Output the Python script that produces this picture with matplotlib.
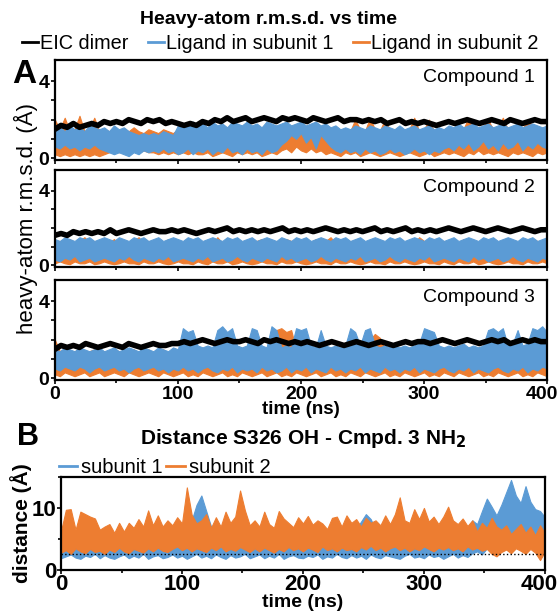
import numpy as np
import matplotlib
matplotlib.use('Agg')
import matplotlib.pyplot as plt
from matplotlib.ticker import MultipleLocator
from matplotlib.lines import Line2D
from matplotlib.transforms import ScaledTranslation

plt.rcParams['font.family'] = ['Liberation Sans', 'DejaVu Sans']

azul = '#5b9bd5'
naranja = '#ed7d31'

# --- Datos ---
# EIC dimer: r.m.s.d. (A) cada 5 ns
eic_c1 = [1.5, 1.7, 1.6, 1.8, 1.6, 1.7, 1.8, 1.7, 1.9, 1.8,
          1.9, 1.8, 2.0, 1.9, 1.8, 2.0, 1.9, 2.0, 1.8, 1.9,
          1.8, 1.7, 1.8, 1.7, 1.9, 1.8, 2.0, 1.9, 2.1, 1.9,
          2.0, 2.1, 1.9, 2.0, 2.1, 2.0, 1.9, 2.1, 2.0, 2.1,
          2.0, 1.9, 2.1, 2.0, 1.9, 2.0, 2.1, 1.9, 2.0, 2.0,
          1.9, 2.0, 1.9, 2.0, 1.8, 1.9, 2.0, 1.8, 1.9, 1.8,
          1.9, 1.8, 1.7, 1.8, 1.9, 1.8, 1.9, 2.0, 1.9, 1.8,
          1.9, 2.0, 1.9, 1.8, 2.0, 1.9, 1.8, 1.9, 2.0, 1.9,
          1.9]
eic_c2 = [1.6, 1.7, 1.6, 1.8, 1.7, 1.8, 1.7, 1.8, 1.7, 1.9,
          1.7, 1.8, 1.9, 1.8, 1.7, 1.8, 1.9, 1.8, 1.8, 1.9,
          1.8, 1.9, 1.8, 1.7, 1.8, 1.9, 1.8, 1.9, 2.0, 1.8,
          1.9, 1.8, 1.9, 1.8, 1.9, 1.8, 1.9, 2.0, 1.8, 1.9,
          1.8, 1.9, 1.8, 1.9, 2.0, 1.9, 1.8, 1.9, 1.8, 1.9,
          1.8, 1.9, 2.0, 1.8, 1.9, 1.8, 1.9, 2.0, 1.8, 1.9,
          1.8, 1.9, 1.8, 1.9, 2.0, 1.9, 1.8, 1.9, 2.0, 1.9,
          1.8, 1.9, 2.0, 1.9, 1.8, 1.9, 2.0, 1.9, 1.8, 1.9,
          1.9]
eic_c3 = [1.5, 1.7, 1.6, 1.7, 1.6, 1.8, 1.7, 1.6, 1.7, 1.8,
          1.7, 1.6, 1.8, 1.7, 1.6, 1.7, 1.8, 1.7, 1.7, 1.8,
          1.8, 1.9, 1.8, 1.9, 2.0, 1.9, 1.8, 1.9, 2.0, 1.9,
          1.9, 2.0, 1.9, 1.8, 2.0, 1.9, 2.0, 1.9, 1.8, 1.9,
          1.8, 1.9, 1.8, 1.7, 1.8, 1.9, 1.8, 1.7, 1.8, 1.9,
          1.8, 1.7, 1.8, 1.9, 1.8, 1.7, 1.8, 1.9, 1.8, 1.9,
          1.9, 1.8, 1.9, 2.0, 1.9, 1.8, 1.9, 2.0, 1.9, 1.8,
          1.9, 2.0, 1.9, 2.0, 1.8, 1.9, 2.0, 1.9, 2.0, 1.9,
          1.9]

# Ligandos: envolvente superior / inferior cada 4 ns
lig1_c1_hi = [1.5, 1.6, 1.4, 1.7, 1.5, 1.6, 1.4, 1.7, 1.6, 1.5,
              1.6, 1.4, 1.7, 1.5, 1.6, 1.4, 1.3, 1.2, 1.3, 1.2,
              1.3, 1.2, 1.4, 1.3, 1.2, 1.7, 1.8, 1.6, 1.9, 1.7,
              1.8, 1.6, 1.9, 1.7, 1.8, 1.6, 1.9, 1.8, 1.7, 1.9,
              1.7, 1.8, 1.6, 1.9, 1.8, 1.7, 1.8, 1.9, 1.7, 1.8,
              1.9, 1.7, 1.8, 1.9, 1.7, 1.8, 1.6, 1.7, 1.5, 1.6,
              1.5, 1.7, 1.6, 1.5, 1.7, 1.6, 1.5, 1.7, 1.6, 1.5,
              1.7, 1.5, 1.6, 1.7, 1.5, 1.6, 1.7, 1.5, 1.6, 1.5,
              1.7, 1.6, 1.8, 1.6, 1.7, 1.8, 1.6, 1.7, 1.8, 1.6,
              1.7, 1.8, 1.6, 1.7, 1.8, 1.6, 1.7, 1.8, 1.7, 1.6,
              1.7]
lig1_c1_lo = [0.6, 0.5, 0.7, 0.5, 0.6, 0.4, 0.6, 0.5, 0.7, 0.5,
              0.4, 0.3, 0.2, 0.3, 0.2, 0.1, 0.3, 0.2, 0.4, 0.3,
              0.4, 0.3, 0.5, 0.3, 0.4, 0.2, 0.3, 0.5, 0.2, 0.4,
              0.3, 0.5, 0.2, 0.4, 0.3, 0.6, 0.3, 0.4, 0.2, 0.5,
              0.3, 0.4, 0.2, 0.5, 0.3, 0.4, 0.7, 0.9, 1.2, 1.0,
              1.3, 0.8, 1.1, 0.5, 1.2, 0.9, 0.6, 0.4, 0.3, 0.5,
              0.3, 0.4, 0.2, 0.5, 0.3, 0.4, 0.2, 0.3, 0.5, 0.3,
              0.4, 0.2, 0.3, 0.5, 0.3, 0.4, 0.2, 0.4, 0.3, 0.5,
              0.6, 0.4, 0.7, 0.5, 0.8, 0.4, 0.6, 0.9, 0.5, 0.7,
              0.4, 0.8, 0.5, 0.6, 0.9, 0.4, 0.7, 0.5, 0.8, 0.6,
              0.5]
lig2_c1_hi = [2.0, 1.5, 2.1, 1.4, 1.5, 2.2, 1.4, 1.5, 2.1, 1.4,
              1.5, 1.4, 1.5, 1.3, 1.5, 1.4, 1.6, 1.4, 1.3, 1.5,
              1.4, 1.3, 1.5, 1.4, 1.3, 1.5, 1.6, 1.5, 1.6, 1.5,
              1.6, 1.5, 1.7, 1.5, 1.6, 1.5, 1.7, 1.6, 1.5, 1.6,
              1.5, 1.6, 1.5, 1.7, 1.6, 1.5, 1.6, 1.7, 1.5, 1.6,
              1.7, 1.5, 1.6, 1.7, 1.5, 1.6, 1.5, 1.6, 1.4, 1.5,
              1.4, 2.0, 1.5, 1.4, 2.1, 1.5, 1.4, 2.0, 1.5, 1.4,
              1.5, 1.4, 1.5, 2.1, 1.4, 1.5, 2.0, 1.4, 1.5, 1.4,
              1.6, 1.5, 1.7, 1.5, 2.1, 1.7, 1.5, 1.6, 2.0, 1.5,
              1.6, 2.1, 1.5, 1.6, 1.7, 1.5, 2.0, 1.7, 1.6, 1.5,
              1.6]
lig2_c1_lo = [0.2, 0.1, 0.2, 0.1, 0.2, 0.1, 0.2, 0.1, 0.2, 0.1,
              0.2, 0.3, 0.4, 0.3, 0.5, 0.3, 0.4, 0.3, 0.4, 0.3,
              0.3, 0.2, 0.3, 0.2, 0.3, 0.2, 0.3, 0.2, 0.3, 0.2,
              0.2, 0.3, 0.1, 0.2, 0.3, 0.2, 0.1, 0.3, 0.2, 0.3,
              0.2, 0.3, 0.1, 0.2, 0.3, 0.2, 0.4, 0.5, 0.3, 0.6,
              0.4, 0.3, 0.5, 0.3, 0.4, 0.2, 0.3, 0.2, 0.1, 0.3,
              0.2, 0.3, 0.1, 0.2, 0.3, 0.2, 0.1, 0.2, 0.3, 0.2,
              0.1, 0.2, 0.3, 0.2, 0.1, 0.2, 0.3, 0.1, 0.2, 0.3,
              0.2, 0.3, 0.2, 0.1, 0.3, 0.2, 0.4, 0.2, 0.3, 0.2,
              0.3, 0.2, 0.1, 0.3, 0.2, 0.3, 0.2, 0.1, 0.3, 0.2,
              0.3]

lig1_c2_hi = [1.4, 1.3, 1.5, 1.4, 1.3, 1.5, 1.4, 1.5, 1.3, 1.4,
              1.5, 1.4, 1.3, 1.5, 1.4, 1.3, 1.5, 1.4, 1.5, 1.3,
              1.4, 1.5, 1.3, 1.4, 1.5, 1.4, 1.3, 1.5, 1.4, 1.5,
              1.3, 1.4, 1.5, 1.4, 1.3, 1.5, 1.4, 1.5, 1.3, 1.4,
              1.5, 1.3, 1.4, 1.5, 1.4, 1.3, 1.5, 1.4, 1.3, 1.5,
              1.4, 1.5, 1.3, 1.4, 1.5, 1.4, 1.3, 1.5, 1.4, 1.5,
              1.3, 1.4, 1.5, 1.3, 1.4, 1.5, 1.4, 1.3, 1.5, 1.4,
              1.5, 1.3, 1.4, 1.5, 1.4, 1.3, 1.5, 1.4, 1.5, 1.3,
              1.4, 1.5, 1.3, 1.4, 1.5, 1.4, 1.3, 1.5, 1.4, 1.5,
              1.3, 1.4, 1.5, 1.4, 1.3, 1.5, 1.4, 1.5, 1.3, 1.4,
              1.5]
lig1_c2_lo = [0.3, 0.2, 0.4, 0.3, 0.5, 0.2, 0.3, 0.4, 0.2, 0.3,
              0.4, 0.3, 0.2, 0.4, 0.3, 0.5, 0.3, 0.2, 0.4, 0.3,
              0.2, 0.4, 0.3, 0.5, 0.2, 0.3, 0.4, 0.3, 0.2, 0.4,
              0.3, 0.5, 0.2, 0.3, 0.4, 0.2, 0.3, 0.5, 0.3, 0.2,
              0.4, 0.3, 0.2, 0.4, 0.3, 0.2, 0.5, 0.3, 0.4, 0.2,
              0.3, 0.4, 0.2, 0.3, 0.5, 0.3, 0.2, 0.4, 0.3, 0.2,
              0.4, 0.3, 0.5, 0.2, 0.3, 0.4, 0.2, 0.3, 0.5, 0.3,
              0.2, 0.4, 0.3, 0.2, 0.4, 0.3, 0.5, 0.2, 0.3, 0.4,
              0.3, 0.2, 0.4, 0.3, 0.2, 0.5, 0.3, 0.4, 0.2, 0.3,
              0.4, 0.2, 0.3, 0.5, 0.3, 0.2, 0.4, 0.3, 0.2, 0.4,
              0.3]
lig2_c2_hi = [1.2, 1.3, 1.1, 1.4, 1.2, 1.3, 1.5, 1.2, 1.3, 1.1,
              1.3, 1.2, 1.4, 1.1, 1.3, 1.2, 1.3, 1.5, 1.2, 1.3,
              1.1, 1.3, 1.2, 1.4, 1.2, 1.3, 1.1, 1.3, 1.2, 1.4,
              1.2, 1.3, 1.1, 1.5, 1.2, 1.3, 1.2, 1.4, 1.1, 1.3,
              1.2, 1.3, 1.4, 1.2, 1.1, 1.3, 1.2, 1.4, 1.3, 1.2,
              1.1, 1.3, 1.2, 1.4, 1.2, 1.3, 1.5, 1.2, 1.3, 1.1,
              1.3, 1.2, 1.4, 1.2, 1.3, 1.1, 1.3, 1.2, 1.4, 1.3,
              1.2, 1.1, 1.3, 1.2, 1.5, 1.3, 1.2, 1.4, 1.1, 1.3,
              1.2, 1.3, 1.1, 1.4, 1.2, 1.3, 1.2, 1.4, 1.1, 1.3,
              1.2, 1.3, 1.4, 1.2, 1.1, 1.3, 1.2, 1.4, 1.3, 1.2,
              1.3]
lig2_c2_lo = [0.1, 0.2, 0.1, 0.05, 0.2, 0.1, 0.1, 0.2, 0.05, 0.1,
              0.2, 0.1, 0.05, 0.1, 0.2, 0.1, 0.1, 0.05, 0.2, 0.1,
              0.1, 0.2, 0.1, 0.05, 0.1, 0.2, 0.1, 0.1, 0.05, 0.2,
              0.1, 0.05, 0.2, 0.1, 0.1, 0.2, 0.05, 0.1, 0.2, 0.1,
              0.05, 0.1, 0.2, 0.1, 0.1, 0.05, 0.2, 0.1, 0.1, 0.2,
              0.1, 0.05, 0.1, 0.2, 0.1, 0.1, 0.05, 0.2, 0.1, 0.1,
              0.2, 0.1, 0.05, 0.1, 0.2, 0.1, 0.1, 0.05, 0.2, 0.1,
              0.1, 0.2, 0.1, 0.05, 0.1, 0.2, 0.1, 0.1, 0.05, 0.2,
              0.1, 0.05, 0.2, 0.1, 0.1, 0.2, 0.05, 0.1, 0.2, 0.1,
              0.05, 0.1, 0.2, 0.1, 0.1, 0.05, 0.2, 0.1, 0.1, 0.2,
              0.1]

lig1_c3_hi = [1.5, 1.4, 1.6, 1.5, 1.4, 1.6, 1.5, 1.4, 1.5, 1.6,
              1.4, 1.5, 1.6, 1.4, 1.5, 1.6, 1.5, 1.4, 1.6, 1.5,
              1.4, 1.6, 1.5, 1.4, 1.6, 1.5, 2.6, 2.4, 2.5, 1.7,
              1.6, 1.7, 1.6, 2.5, 2.7, 2.4, 2.6, 1.7, 1.6, 1.7,
              2.6, 2.5, 1.7, 1.6, 2.7, 2.5, 1.6, 1.7, 1.6, 2.6,
              2.5, 2.6, 1.7, 1.6, 2.5, 1.7, 1.6, 1.7, 1.6, 1.7,
              2.6, 2.4, 1.7, 2.5, 2.6, 1.7, 1.6, 1.7, 1.6, 1.7,
              1.6, 1.7, 1.6, 1.7, 1.8, 2.6, 2.5, 2.4, 1.7, 1.6,
              1.7, 1.6, 1.7, 1.8, 1.6, 1.7, 1.6, 1.7, 2.5, 2.6,
              2.4, 2.6, 1.7, 1.8, 2.5, 1.7, 1.8, 2.6, 2.5, 2.7,
              2.4]
lig1_c3_lo = [0.5, 0.4, 0.6, 0.5, 0.4, 0.6, 0.5, 0.3, 0.5, 0.6,
              0.4, 0.5, 0.6, 0.4, 0.5, 0.3, 0.5, 0.6, 0.4, 0.5,
              0.6, 0.4, 0.5, 0.3, 0.5, 0.4, 0.6, 0.4, 0.5, 0.3,
              0.5, 0.6, 0.4, 0.3, 0.5, 0.4, 0.6, 0.3, 0.5, 0.4,
              0.5, 0.3, 0.6, 0.4, 0.5, 0.3, 0.4, 0.6, 0.3, 0.5,
              0.4, 0.6, 0.3, 0.5, 0.4, 0.3, 0.6, 0.4, 0.5, 0.3,
              0.5, 0.4, 0.6, 0.3, 0.5, 0.4, 0.3, 0.6, 0.4, 0.5,
              0.3, 0.5, 0.4, 0.6, 0.3, 0.5, 0.4, 0.3, 0.5, 0.6,
              0.4, 0.3, 0.5, 0.4, 0.6, 0.3, 0.5, 0.4, 0.3, 0.5,
              0.6, 0.4, 0.3, 0.5, 0.4, 0.6, 0.3, 0.5, 0.4, 0.6,
              0.5]
lig2_c3_hi = [2.0, 1.4, 1.5, 1.3, 1.4, 1.5, 1.3, 1.4, 1.5, 1.3,
              1.4, 1.3, 1.5, 1.4, 1.3, 1.4, 1.5, 1.3, 1.4, 1.5,
              1.3, 1.4, 1.5, 1.3, 1.4, 1.5, 1.8, 1.4, 1.5, 1.6,
              1.5, 1.6, 1.5, 1.4, 1.6, 1.5, 1.4, 1.6, 1.5, 1.4,
              1.5, 1.6, 1.4, 1.5, 1.6, 2.5, 2.6, 2.4, 2.5, 1.5,
              1.4, 1.6, 1.5, 1.4, 1.6, 1.5, 1.4, 1.6, 1.5, 1.4,
              1.6, 1.5, 1.4, 1.6, 2.0, 2.3, 2.1, 1.5, 1.6, 1.4,
              1.5, 1.6, 1.4, 1.5, 1.6, 1.4, 1.5, 1.6, 1.5, 1.4,
              1.6, 1.5, 1.4, 1.6, 1.5, 1.4, 1.6, 1.5, 1.4, 1.9,
              2.0, 1.8, 1.5, 1.6, 1.4, 1.5, 1.7, 1.6, 1.5, 1.6,
              1.5]
lig2_c3_lo = [0.2, 0.1, 0.3, 0.2, 0.1, 0.2, 0.3, 0.1, 0.2, 0.3,
              0.1, 0.2, 0.3, 0.2, 0.1, 0.3, 0.2, 0.1, 0.2, 0.3,
              0.2, 0.1, 0.3, 0.2, 0.1, 0.2, 0.3, 0.1, 0.2, 0.1,
              0.3, 0.2, 0.1, 0.2, 0.3, 0.1, 0.2, 0.1, 0.3, 0.2,
              0.1, 0.2, 0.3, 0.1, 0.2, 0.3, 0.1, 0.2, 0.1, 0.3,
              0.2, 0.1, 0.2, 0.3, 0.1, 0.2, 0.3, 0.1, 0.2, 0.1,
              0.3, 0.2, 0.1, 0.3, 0.2, 0.1, 0.2, 0.3, 0.1, 0.2,
              0.1, 0.3, 0.2, 0.1, 0.2, 0.3, 0.1, 0.2, 0.1, 0.3,
              0.2, 0.1, 0.3, 0.2, 0.1, 0.2, 0.3, 0.1, 0.2, 0.1,
              0.3, 0.2, 0.1, 0.2, 0.3, 0.1, 0.2, 0.1, 0.3, 0.2,
              0.1]

# Distancia S326 OH - NH2 (A), envolventes cada 4 ns
sub1_hi = [6.5, 5.8, 7.0, 6.0, 5.5, 6.8, 6.2, 5.6, 6.4, 5.9,
           6.6, 5.5, 6.2, 5.8, 7.0, 6.1, 5.7, 6.5, 6.0, 5.6,
           6.3, 5.9, 6.8, 6.0, 5.7, 6.4, 7.5, 8.0, 10.5, 12.0,
           9.5, 7.0, 6.2, 6.8, 5.9, 6.5, 7.2, 6.0, 6.6, 5.8,
           6.4, 6.0, 6.9, 5.7, 6.5, 6.2, 5.9, 6.8, 6.1, 6.6,
           5.8, 6.4, 6.0, 6.7, 5.9, 6.5, 6.1, 6.8, 6.0, 6.4,
           5.9, 6.6, 7.8, 9.0, 8.2, 6.5, 6.0, 6.8, 6.2, 6.6,
           6.0, 6.9, 6.3, 6.7, 6.1, 6.8, 6.4, 7.0, 6.2, 6.9,
           6.5, 7.2, 6.6, 7.5, 6.8, 8.0, 7.4, 9.5, 11.5, 10.2,
           8.8, 10.5, 12.5, 14.5, 12.0, 10.8, 13.5, 11.0, 9.8, 9.5,
           8.5]
sub1_lo = [1.9, 2.2, 2.5, 2.0, 1.8, 2.3, 2.1, 2.6, 1.9, 2.4,
           2.0, 1.8, 2.2, 2.5, 1.9, 2.3, 2.0, 2.6, 1.8, 2.2,
           2.4, 1.9, 2.1, 2.5, 2.0, 2.3, 1.8, 2.2, 2.6, 2.0,
           2.3, 1.9, 2.5, 2.1, 1.8, 2.4, 2.0, 2.2, 2.6, 1.9,
           2.2, 2.5, 1.9, 2.3, 2.0, 2.6, 1.8, 2.2, 2.4, 2.0,
           1.9, 2.3, 2.1, 2.5, 1.8, 2.2, 2.0, 2.6, 2.1, 1.9,
           2.4, 2.0, 2.3, 1.8, 2.5, 2.1, 1.9, 2.4, 2.2, 2.0,
           1.8, 2.3, 2.6, 2.0, 2.2, 1.9, 2.5, 2.1, 2.3, 1.8,
           2.2, 2.6, 2.0, 2.4, 2.1, 2.7, 3.0, 2.5, 3.5, 4.2,
           4.8, 5.0, 4.5, 5.2, 4.6, 5.4, 4.9, 5.1, 4.4, 4.8,
           4.6]
sub2_hi = [6.3, 9.7, 9.8, 6.5, 9.4, 9.0, 8.6, 8.3, 6.5, 7.0,
           7.4, 6.0, 7.6, 6.2, 7.6, 6.8, 8.2, 7.0, 9.6, 7.2,
           8.8, 7.0, 8.0, 7.2, 8.5, 7.5, 13.3, 8.9, 7.5, 8.0,
           9.0, 6.8, 8.5, 7.0, 9.4, 7.6, 8.6, 12.8, 9.6, 7.2,
           8.0, 7.0, 9.4, 7.4, 6.8, 9.5, 8.3, 7.6, 6.9, 8.5,
           7.5, 8.7, 7.3, 8.0, 7.5, 6.6, 8.4, 8.6, 7.0, 8.8,
           7.6, 8.2, 7.0, 8.4, 7.6, 8.0, 7.2, 8.8, 7.4, 9.0,
           11.7, 8.0, 7.6, 9.8, 8.2, 10.0, 7.8, 8.6, 7.4, 8.6,
           10.2, 8.0, 7.4, 8.3, 7.1, 8.0, 6.2, 7.6, 6.8, 8.4,
           7.0, 6.5, 7.2, 5.8, 6.6, 7.4, 6.0, 7.0, 5.6, 7.2,
           5.9]
sub2_lo = [2.8, 3.2, 2.6, 3.5, 3.0, 2.7, 3.4, 2.9, 3.1, 2.6,
           3.3, 2.9, 3.6, 3.0, 2.7, 3.4, 3.1, 2.8, 3.5, 3.0,
           3.6, 3.1, 2.9, 3.4, 3.8, 3.2, 3.6, 3.0, 3.5, 3.2,
           2.9, 3.6, 3.2, 3.8, 3.0, 3.4, 3.1, 3.7, 3.3, 2.9,
           3.5, 3.0, 3.6, 3.2, 2.8, 3.4, 3.0, 3.7, 3.2, 3.5,
           3.0, 3.6, 3.3, 2.9, 3.8, 3.2, 3.5, 3.0, 3.6, 3.2,
           3.4, 3.0, 3.7, 3.3, 3.9, 3.2, 3.6, 3.0, 3.5, 3.8,
           3.2, 3.6, 3.0, 3.5, 3.2, 3.8, 3.4, 3.0, 3.6, 3.3,
           3.7, 3.2, 3.5, 3.0, 3.8, 3.3, 3.6, 3.1, 3.4, 2.6,
           2.2, 2.9, 3.3, 2.7, 3.5, 3.1, 2.6, 3.4, 2.8, 1.6,
           3.0]

umbral_hbond = 2.5
t_max = 400

compuestos = ['Compound 1', 'Compound 2', 'Compound 3']
eic = [eic_c1, eic_c2, eic_c3]
lig1 = [(lig1_c1_lo, lig1_c1_hi), (lig1_c2_lo, lig1_c2_hi), (lig1_c3_lo, lig1_c3_hi)]
lig2 = [(lig2_c1_lo, lig2_c1_hi), (lig2_c2_lo, lig2_c2_hi), (lig2_c3_lo, lig2_c3_hi)]


def banda(ax, lo, hi, color):
    t = np.linspace(0, t_max, len(lo))
    ax.fill_between(t, lo, hi, color=color, lw=0.8, edgecolor=color)


def correr_ultima_etiqueta(ax, dx_pts):
    # la etiqueta "400" queda algo a la izquierda de su marca, como en el original
    ultimo = ax.xaxis.get_major_ticks()[-1]
    ultimo.label1.set_transform(ultimo.label1.get_transform()
                                + ScaledTranslation(dx_pts / 72, 0, ax.figure.dpi_scale_trans))


fig = plt.figure(figsize=(5.6, 6.13), dpi=100)

# Panel A
posiciones = [[0.098, 0.739, 0.879, 0.163],
              [0.098, 0.5644, 0.879, 0.158],
              [0.098, 0.380, 0.879, 0.163]]
ejes = []
for k in range(3):
    ax = fig.add_axes(posiciones[k])
    banda(ax, lig2[k][0], lig2[k][1], naranja)
    banda(ax, lig1[k][0], lig1[k][1], azul)
    ax.plot(np.linspace(0, t_max, len(eic[k])), eic[k], color='black', lw=4)
    ax.set_xlim(0, t_max)
    ax.set_ylim(-0.1, 5.1)
    ax.set_yticks([0, 1, 2, 3, 4])
    ax.set_yticklabels(['0', '', '', '', '4'], fontweight='bold')
    ax.set_xticks([0, 100, 200, 300, 400])
    ax.xaxis.set_minor_locator(MultipleLocator(50))
    ax.tick_params(direction='out', length=3, width=1.2, labelsize=14, pad=1)
    ax.tick_params(which='minor', direction='out', length=2, width=1.2)
    for s in ax.spines.values():
        s.set_linewidth(1.6)
    ax.text(0.975, 0.91, compuestos[k], transform=ax.transAxes, ha='right', va='top', fontsize=14)
    if k < 2:
        ax.set_xticklabels([])
    ejes.append(ax)

ejes[2].set_xticklabels(['0', '100', '200', '300', '400'], fontweight='bold')
correr_ultima_etiqueta(ejes[2], -4)
ejes[2].set_xlabel('time (ns)', fontsize=13.5, fontweight='bold', labelpad=-1)
ejes[1].set_ylabel('heavy-atom r.m.s.d. (Å)', fontsize=16, labelpad=0)

fig.text(0.48, 0.968, 'Heavy-atom r.m.s.d. vs time', ha='center', va='center', fontsize=14, fontweight='bold')
manijas = [Line2D([], [], color='black', lw=2), Line2D([], [], color=azul, lw=2),
           Line2D([], [], color=naranja, lw=2)]
fig.legend(handles=manijas, labels=['EIC dimer', 'Ligand in subunit 1', 'Ligand in subunit 2'],
           loc='center', bbox_to_anchor=(0.5, 0.929), ncol=3, frameon=False, fontsize=14.3,
           handlelength=0.8, handletextpad=0.1, columnspacing=1.0, borderaxespad=0)
fig.text(0.022, 0.878, 'A', fontsize=24, fontweight='bold', va='center')

# Panel B
axb = fig.add_axes([0.109, 0.0701, 0.864, 0.152])
banda(axb, sub1_lo, sub1_hi, azul)
banda(axb, sub2_lo, sub2_hi, naranja)
axb.axhline(umbral_hbond, color='black', lw=1, ls=':')
axb.set_xlim(0, t_max)
axb.set_ylim(0, 15)
axb.set_yticks([0, 10])
axb.set_yticklabels(['0', '10'], fontweight='bold')
axb.yaxis.set_minor_locator(MultipleLocator(5))
axb.set_xticks([0, 100, 200, 300, 400])
axb.set_xticklabels(['0', '100', '200', '300', '400'], fontweight='bold')
axb.xaxis.set_minor_locator(MultipleLocator(50))
axb.tick_params(direction='out', length=3, width=1.2, labelsize=16, pad=0)
axb.tick_params(which='minor', direction='out', length=2, width=1.2)
correr_ultima_etiqueta(axb, -4)
for s in axb.spines.values():
    s.set_linewidth(1.6)
axb.set_xlabel('time (ns)', fontsize=14, fontweight='bold', labelpad=-1)
axb.set_ylabel('distance (Å)', fontsize=15, fontweight='bold', labelpad=0)
axb.set_title(r'Distance S326 OH - Cmpd. 3 NH$_\mathbf{2}$', fontsize=15, fontweight='bold', pad=24)
manijas_b = [Line2D([], [], color=azul, lw=2), Line2D([], [], color=naranja, lw=2)]
axb.legend(handles=manijas_b, labels=['subunit 1', 'subunit 2'], loc='lower left',
           bbox_to_anchor=(-0.005, 1.0), ncol=2, frameon=False, fontsize=14.5,
           handlelength=0.9, handletextpad=0.2, columnspacing=0.2, borderaxespad=0, borderpad=0)
fig.text(0.03, 0.287, 'B', fontsize=22, fontweight='bold', va='center')

fig.savefig('out.png', dpi=100)
